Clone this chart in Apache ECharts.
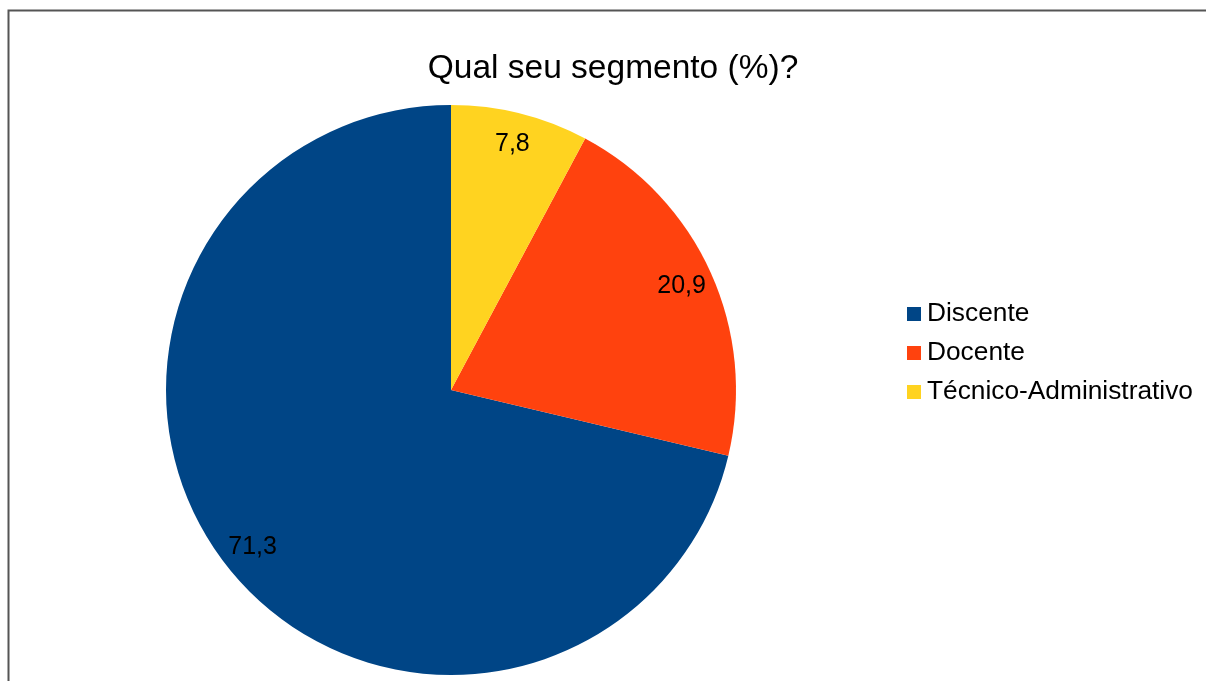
<!DOCTYPE html>
<html><head><meta charset="utf-8">
<script src="https://cdn.jsdelivr.net/npm/echarts@6/dist/echarts.min.js"></script>
<style>html,body{margin:0;padding:0;background:#fff}#c{width:1206px;height:681px}</style>
</head><body><div id="c"></div>
<script>
const titleText = 'Qual seu segmento (%)?';
const categories = ['Discente', 'Docente', 'Técnico-Administrativo'];
const values = [71.3, 20.9, 7.8];
const labels = ['71,3', '20,9', '7,8'];
const colors = ['#004586', '#ff420e', '#ffd320'];

const chart = echarts.init(document.getElementById('c'));
const FONT = '"Liberation Sans", Arial, sans-serif';
const labelStyle = { show: true, position: 'inside', fontFamily: FONT, fontSize: 25, color: '#000' };
const data = categories.map((n, i) => ({ name: n, value: values[i], itemStyle: { color: colors[i] } }));
chart.setOption({
  animation: false,
  title: { text: titleText, left: 608, top: 47, textAlign: 'center',
    textStyle: { fontFamily: FONT, fontSize: 33.5, fontWeight: 'normal', color: '#000' } },
  legend: { orient: 'vertical', left: 902, top: 296, itemWidth: 14, itemHeight: 14, itemGap: 13,
    icon: 'rect', textStyle: { fontFamily: FONT, fontSize: 26.3, color: '#000', padding: [0,0,0,1] },
    data: categories },
  graphic: [{ type: 'rect', shape: { x: 8.5, y: 10.5, width: 1400, height: 1000 },
    style: { fill: 'none', stroke: '#555', lineWidth: 2 }, z: 100 }],
  series: [
    { type: 'pie', center: [451, 390], radius: [0, 285], startAngle: 90, clockwise: false,
      label: { show: false }, labelLine: { show: false }, data: data, silent: true },
    { type: 'pie', center: [451, 390], radius: [215, 285], startAngle: 90, clockwise: false,
      itemStyle: { color: 'rgba(0,0,0,0)' }, silent: true, legendHoverLink: false,
      label: labelStyle, labelLine: { show: false },
      data: categories.map((n, i) => ({ name: n, value: values[i],
        itemStyle: { color: 'rgba(0,0,0,0)' },
        label: Object.assign({}, labelStyle, { formatter: labels[i] }) })) }
  ]
});
</script></body></html>
